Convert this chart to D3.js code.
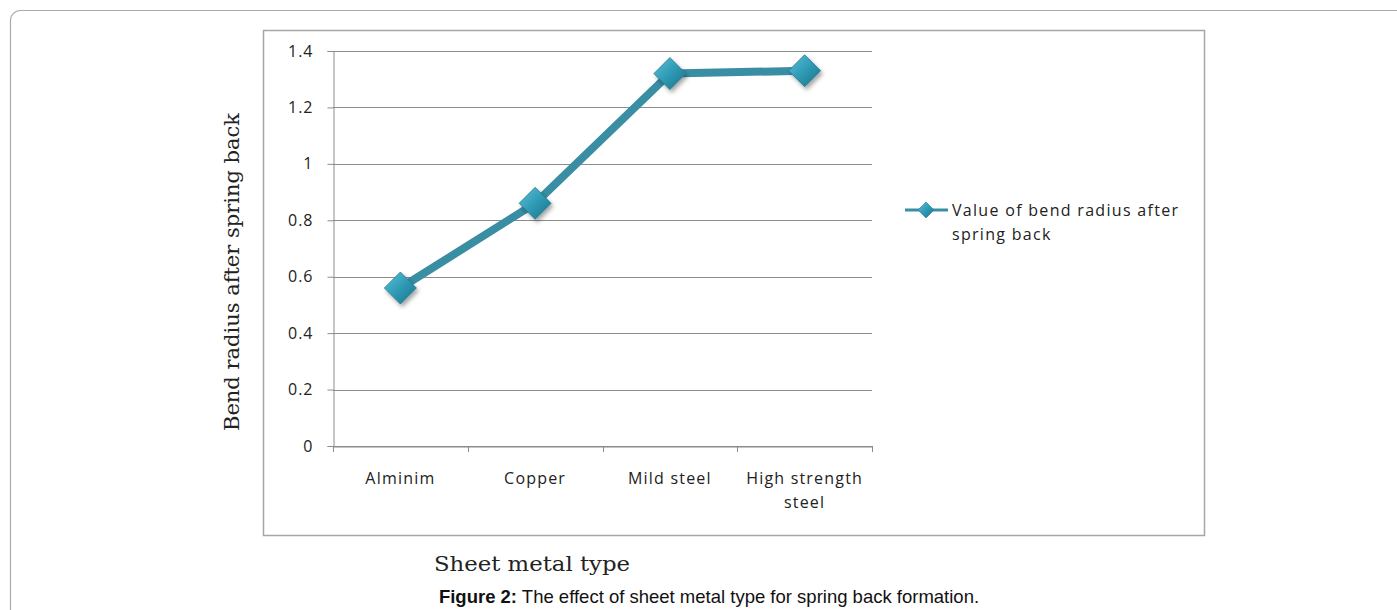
<!DOCTYPE html>
<html><head><meta charset="utf-8">
<script src="https://cdn.jsdelivr.net/npm/d3@7/dist/d3.min.js"></script>
<style>body{margin:0;background:#fff;} svg{display:block;}</style>
</head><body>
<svg id="c" width="1397" height="610"></svg>
<script>
const categories = [["Alminim"], ["Copper"], ["Mild steel"], ["High strength", "steel"]];
const catKeys = ["Alminim", "Copper", "Mild steel", "High strength steel"];
const values = [0.56, 0.86, 1.32, 1.33];
const yTicks = [0, 0.2, 0.4, 0.6, 0.8, 1, 1.2, 1.4];
const seriesName = ["Value of bend radius after", "spring back"];
const yTitle = "Bend radius after spring back";
const xTitle = "Sheet metal type";
const captionBold = "Figure 2:";
const captionText = " The effect of sheet metal type for spring back formation.";

const svg = d3.select("#c");
const defs = svg.append("defs");
const g1 = defs.append("linearGradient").attr("id","dg").attr("x1","0").attr("y1","0").attr("x2","1").attr("y2","1");
g1.append("stop").attr("offset","0").attr("stop-color","#5cc0d8");
g1.append("stop").attr("offset","0.5").attr("stop-color","#2f9ab5");
g1.append("stop").attr("offset","1").attr("stop-color","#1d6f86");
const f = defs.append("filter").attr("id","sh").attr("x","-50%").attr("y","-50%").attr("width","200%").attr("height","200%");
f.append("feDropShadow").attr("dx",2).attr("dy",3).attr("stdDeviation",2).attr("flood-color","#000").attr("flood-opacity",0.35);

const labelFont = "'Open Sans', sans-serif";

// outer rounded frame
svg.append("rect").attr("x",10.5).attr("y",10.5).attr("width",1420).attr("height",640).attr("rx",10)
  .attr("fill","none").attr("stroke","#aaa").attr("stroke-width",1.2);

// chart frame
svg.append("rect").attr("x",263.5).attr("y",30.5).attr("width",941).attr("height",505)
  .attr("fill","#fff").attr("stroke","#a6a6a6").attr("stroke-width",1.5);

const x = d3.scaleBand().domain(catKeys).range([333, 872]);
const y = d3.scaleLinear().domain([0, 1.4]).range([446, 51]);

// gridlines
svg.append("g").selectAll("line").data(yTicks).join("line")
  .attr("x1",333).attr("x2",872).attr("y1",d=>Math.round(y(d))+0.5).attr("y2",d=>Math.round(y(d))+0.5)
  .attr("stroke","#8c8c8c").attr("stroke-width",1);

// y axis
const ya = svg.append("g").attr("transform","translate(333.5,0)")
  .call(d3.axisLeft(y).tickValues(yTicks).tickSize(6).tickPadding(14).tickFormat(d=>String(d)));
ya.select(".domain").attr("stroke","#8c8c8c");
ya.selectAll(".tick line").attr("stroke","#8c8c8c");
ya.selectAll(".tick text").attr("font-family",labelFont).attr("font-size",16).attr("letter-spacing",1).attr("fill","#222");

// x axis
const xa = svg.append("g").attr("transform","translate(0,446.5)")
  .call(d3.axisBottom(x).tickSize(0).tickFormat(""));
xa.select(".domain").attr("stroke","#8c8c8c");
const bounds = catKeys.map(c=>x(c)).concat([872]);
svg.append("g").selectAll("line").data(bounds).join("line")
  .attr("x1",d=>Math.round(d)+0.5).attr("x2",d=>Math.round(d)+0.5).attr("y1",446).attr("y2",452)
  .attr("stroke","#8c8c8c");
const lab = svg.append("g").selectAll("text").data(catKeys).join("text")
  .attr("x",d=>x(d)+x.bandwidth()/2).attr("y",484)
  .attr("text-anchor","middle").attr("font-family",labelFont).attr("font-size",16).attr("letter-spacing",1.2).attr("fill","#222");
lab.each(function(d,i){
  const t=d3.select(this);
  categories[i].forEach((s,j)=>t.append("tspan").attr("x",x(d)+x.bandwidth()/2).attr("dy",j?24:0).text(s));
});

// line
const line = d3.line().x((d,i)=>x(catKeys[i])+x.bandwidth()/2).y(d=>y(d));
svg.append("path").datum(values).attr("d",line).attr("fill","none")
  .attr("stroke","#3a8ea3").attr("stroke-width",8).attr("stroke-linejoin","round");

const diamond = s => `M0,${-s}L${s},0L0,${s}L${-s},0Z`;
svg.append("g").selectAll("path").data(values).join("path")
  .attr("transform",(d,i)=>`translate(${x(catKeys[i])+x.bandwidth()/2},${y(d)})`)
  .attr("d",diamond(16)).attr("fill","url(#dg)").attr("stroke","#237a90").attr("stroke-width",0.8)
  .attr("filter","url(#sh)");

// legend
svg.append("line").attr("x1",905).attr("x2",948).attr("y1",210).attr("y2",210).attr("stroke","#3a8ea3").attr("stroke-width",3);
svg.append("path").attr("transform","translate(926,210)").attr("d",diamond(8)).attr("fill","url(#dg)").attr("stroke","#237a90").attr("stroke-width",0.6);
const lt = svg.append("text").attr("x",952).attr("y",216).attr("font-family",labelFont).attr("font-size",16).attr("letter-spacing",1.3).attr("fill","#222");
seriesName.forEach((s,j)=>lt.append("tspan").attr("x",952).attr("dy",j?24:0).text(s));

// axis titles
svg.append("text").attr("transform","translate(239,272) rotate(-90)").attr("text-anchor","middle")
  .attr("font-family","'DejaVu Serif', serif").attr("font-size",20).attr("fill","#222")
  .attr("textLength",318).attr("lengthAdjust","spacingAndGlyphs").text(yTitle);
svg.append("text").attr("x",434).attr("y",571)
  .attr("font-family","'DejaVu Serif', serif").attr("font-size",20).attr("fill","#222")
  .attr("textLength",196).attr("lengthAdjust","spacingAndGlyphs").text(xTitle);

// caption
const cap = svg.append("text").attr("x",709).attr("y",603).attr("text-anchor","middle")
  .attr("font-family","'Liberation Sans', Arial, sans-serif").attr("font-size",18.5).attr("fill","#111");
cap.append("tspan").attr("font-weight","bold").text(captionBold);
cap.append("tspan").text(captionText);
</script>
</body></html>
